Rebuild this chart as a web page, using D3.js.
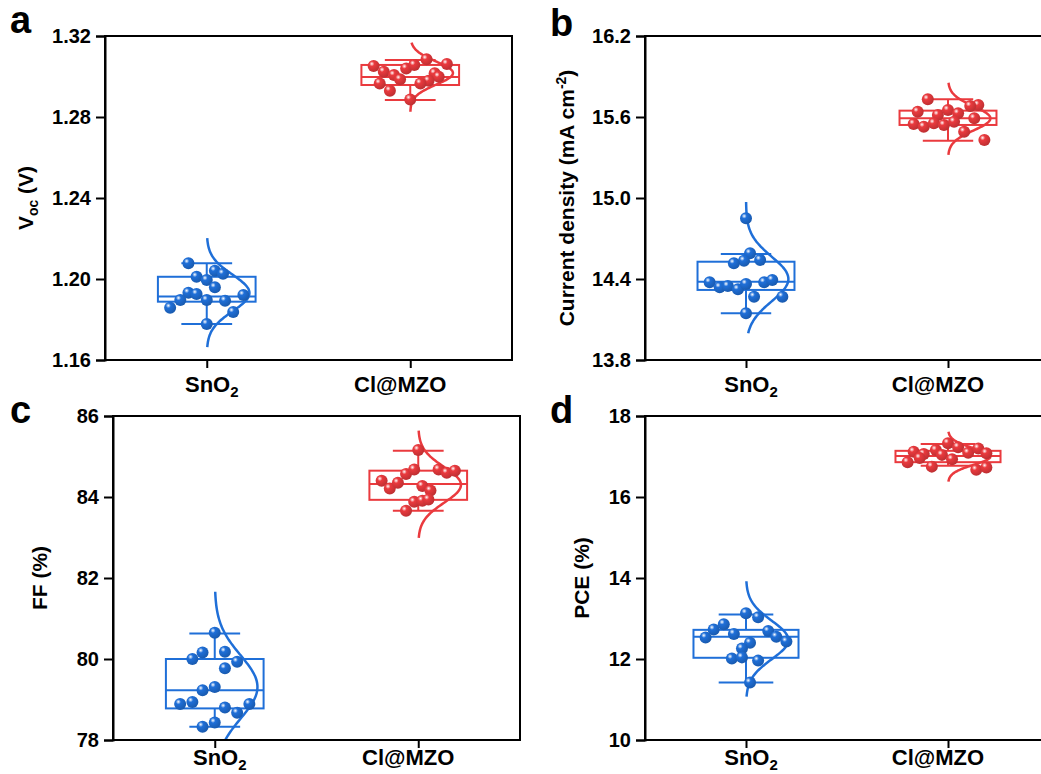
<!DOCTYPE html>
<html lang="en">
<head>
<meta charset="utf-8">
<title>Device statistics</title>
<script src="https://d3js.org/d3.v7.min.js"></script>
<style>
  body { margin: 0; background: #fff; }
  svg text { font-family: "Liberation Sans", Arial, sans-serif; font-weight: bold; fill: #000; }
</style>
</head>
<body>
<script>
// ---- data ----
var categories = ["SnO2", "Cl@MZO"];
var colors = ["#1f6fd8", "#ea3a3e"];

// Voc (V)
var vocSnO2 = [1.2078, 1.2041, 1.2026, 1.2011, 1.1995, 1.1959, 1.1932, 1.1926, 1.1921, 1.1896, 1.1896, 1.1893, 1.1858, 1.1837, 1.1778];
var vocSnO2Jit = [-0.09, 0.04, 0.08, -0.05, 0, 0.04, -0.09, -0.05, 0.18, -0.13, 0, 0.09, -0.18, 0.13, 0];
var vocMZO = [1.3052, 1.3024, 1.3007, 1.2986, 1.3040, 1.3057, 1.3085, 1.3062, 1.3016, 1.2999, 1.2979, 1.2966, 1.2966, 1.2930, 1.2887];
var vocMZOJit = [-0.18, -0.13, -0.08, -0.05, -0.02, 0.02, 0.08, 0.18, 0.12, 0.14, 0.09, 0.05, -0.15, -0.10, 0];
var vocBox = [[1.1778, 1.1888, 1.1913, 1.2011, 1.2078], [1.2884, 1.2958, 1.2998, 1.3057, 1.3081]];
var vocFit = [[1.1931, 0.009, 1.1664, 1.2202], [1.3017, 0.0057, 1.2826, 1.3167]]; // mean, sd, from, to
var vocTicks = [1.16, 1.20, 1.24, 1.28, 1.32];

// Current density (mA cm-2)
var jscSnO2 = [14.85, 14.590, 14.536, 14.516, 14.541, 14.376, 14.339, 14.348, 14.324, 14.363, 14.376, 14.393, 14.269, 14.269, 14.146];
var jscSnO2Jit = [0, 0.02, -0.01, -0.06, 0.07, -0.18, -0.13, -0.09, -0.04, 0, 0.09, 0.13, 0.04, 0.18, 0];
var jscMZO = [15.731, 15.639, 15.652, 15.615, 15.627, 15.689, 15.681, 15.590, 15.548, 15.528, 15.553, 15.541, 15.565, 15.491, 15.430];
var jscMZOJit = [-0.10, -0.15, 0, -0.05, 0.05, 0.15, 0.11, 0.13, -0.17, -0.12, -0.07, -0.02, 0.03, 0.08, 0.18];
var jscBox = [[14.146, 14.319, 14.380, 14.528, 14.585], [15.424, 15.541, 15.590, 15.647, 15.731]];
var jscFit = [[14.40, 0.165, 13.998, 14.97], [15.59, 0.089, 15.319, 15.854]];
var jscTicks = [13.8, 14.4, 15.0, 15.6, 16.2];

// FF (%)
var ffSnO2 = [80.65, 80.0, 80.16, 80.18, 79.93, 79.77, 79.23, 79.31, 78.89, 78.94, 78.80, 78.89, 78.67, 78.43, 78.33];
var ffSnO2Jit = [0, -0.11, -0.06, 0.05, 0.11, 0.05, -0.06, 0, -0.17, -0.11, 0.05, 0.17, 0.11, 0, -0.06];
var ffMZO = [85.16, 84.40, 84.21, 84.35, 84.57, 84.68, 84.68, 84.60, 84.65, 84.27, 84.16, 83.88, 83.91, 83.94, 83.66];
var ffMZOJit = [0, -0.18, -0.14, -0.10, -0.06, -0.02, 0.10, 0.14, 0.18, 0.02, 0.06, -0.02, 0.02, 0.05, -0.06];
var ffBox = [[78.33, 78.78, 79.23, 80.0, 80.63], [83.66, 83.93, 84.32, 84.65, 85.14]];
var ffFit = [[79.31, 0.78, 76.9, 81.66], [84.30, 0.44, 82.99, 85.64]];
var ffTicks = [78, 80, 82, 84, 86];

// PCE (%)
var pceSnO2 = [13.13, 13.03, 12.86, 12.73, 12.53, 12.62, 12.69, 12.55, 12.43, 12.40, 12.26, 12.01, 12.04, 11.96, 11.42];
var pceSnO2Jit = [0, 0.06, -0.11, -0.16, -0.20, -0.06, 0.11, 0.15, 0.20, 0.02, -0.02, -0.07, -0.02, 0.06, 0.02];
var pceMZO = [17.33, 17.12, 17.06, 17.16, 17.04, 17.23, 17.09, 17.20, 17.08, 16.86, 16.96, 16.93, 16.75, 16.67, 16.73];
var pceMZOJit = [0, -0.17, -0.12, -0.06, -0.03, 0.05, 0.10, 0.15, 0.19, -0.20, -0.14, 0.02, -0.08, 0.14, 0.19];
var pceBox = [[11.42, 12.03, 12.55, 12.72, 13.10], [16.77, 16.86, 17.01, 17.14, 17.31]];
var pceFit = [[12.47, 0.475, 11.07, 13.92], [17.0, 0.205, 16.38, 17.61]];
var pceTicks = [10, 12, 14, 16, 18];

// ---- layout ----
var W = 1041, H = 774;
var svg = d3.select("body").append("svg").attr("width", W).attr("height", H);

var defs = svg.append("defs");
colors.forEach(function(c, i) {
  var g = defs.append("radialGradient").attr("id", "ball" + i)
    .attr("cx", "35%").attr("cy", "32%").attr("r", "70%");
  g.append("stop").attr("offset", "0%").attr("stop-color", "#ffffff");
  g.append("stop").attr("offset", "30%").attr("stop-color", c);
  g.append("stop").attr("offset", "100%").attr("stop-color", d3.color(c).darker(0.6));
});

var panels = [
  { letter: "a", x0: 105, x1: 512, y0: 36, y1: 360, ticks: vocTicks, fmt: ".2f",
    pts: [vocSnO2, vocMZO], jit: [vocSnO2Jit, vocMZOJit], box: vocBox, fit: vocFit,
    boxW: 0.48, titleX: 33, title: "voc", letterX: 10, letterY: 33, labY: 32 },
  { letter: "b", x0: 645, x1: 1049, y0: 36, y1: 360, ticks: jscTicks, fmt: ".1f",
    pts: [jscSnO2, jscMZO], jit: [jscSnO2Jit, jscMZOJit], box: jscBox, fit: jscFit,
    boxW: 0.48, titleX: 574, title: "jsc", letterX: 550, letterY: 36, labY: 32 },
  { letter: "c", x0: 113, x1: 520, y0: 416, y1: 740, ticks: ffTicks, fmt: "d",
    pts: [ffSnO2, ffMZO], jit: [ffSnO2Jit, ffMZOJit], box: ffBox, fit: ffFit,
    boxW: 0.48, titleX: 47, title: "FF (%)", letterX: 10, letterY: 423, labY: 25 },
  { letter: "d", x0: 645, x1: 1049, y0: 416, y1: 740, ticks: pceTicks, fmt: "d",
    pts: [pceSnO2, pceMZO], jit: [pceSnO2Jit, pceMZOJit], box: pceBox, fit: pceFit,
    boxW: 0.52, titleX: 589, title: "PCE (%)", letterX: 550, letterY: 423, labY: 25 }
];

panels.forEach(function(p, pi) {
  var x = d3.scaleLinear().domain([0.5, 2.5]).range([p.x0, p.x1]);
  var y = d3.scaleLinear().domain([p.ticks[0], p.ticks[p.ticks.length - 1]]).range([p.y1, p.y0]);
  var g = svg.append("g");

  defs.append("clipPath").attr("id", "clip" + pi).append("rect")
    .attr("x", p.x0).attr("y", p.y0).attr("width", p.x1 - p.x0).attr("height", p.y1 - p.y0);
  var plot = g.append("g").attr("clip-path", "url(#clip" + pi + ")");

  // boxes + whiskers
  p.box.forEach(function(b, i) {
    var c = colors[i], cx = i + 1, hw = p.boxW / 2, cap = p.boxW * 0.26;
    var bg = plot.append("g").attr("stroke", c).attr("stroke-width", 2).attr("fill", "none");
    bg.append("rect").attr("x", x(cx - hw)).attr("y", y(b[3]))
      .attr("width", x(cx + hw) - x(cx - hw)).attr("height", y(b[1]) - y(b[3]));
    bg.append("line").attr("x1", x(cx - hw)).attr("x2", x(cx + hw)).attr("y1", y(b[2])).attr("y2", y(b[2]));
    bg.append("line").attr("x1", x(cx)).attr("x2", x(cx)).attr("y1", y(b[3])).attr("y2", y(b[4]));
    bg.append("line").attr("x1", x(cx)).attr("x2", x(cx)).attr("y1", y(b[1])).attr("y2", y(b[0]));
    bg.append("line").attr("x1", x(cx - cap)).attr("x2", x(cx + cap)).attr("y1", y(b[4])).attr("y2", y(b[4]));
    bg.append("line").attr("x1", x(cx - cap)).attr("x2", x(cx + cap)).attr("y1", y(b[0])).attr("y2", y(b[0]));
  });

  // normal distribution curves
  p.fit.forEach(function(f, i) {
    var cx = i + 1, peak = 0.21;
    var vals = d3.range(0, 81).map(function(k) { return f[2] + (f[3] - f[2]) * k / 80; });
    var line = d3.line()
      .x(function(v) { return x(cx + peak * Math.exp(-0.5 * Math.pow((v - f[0]) / f[1], 2))); })
      .y(function(v) { return y(v); })
      .curve(d3.curveBasis);
    plot.append("path").datum(vals).attr("d", line)
      .attr("fill", "none").attr("stroke", colors[i]).attr("stroke-width", 2.5);
  });

  // points
  p.pts.forEach(function(arr, i) {
    plot.selectAll(null).data(arr).enter().append("circle")
      .attr("cx", function(d, k) { return x(i + 1 + p.jit[i][k]); })
      .attr("cy", function(d) { return y(d); })
      .attr("r", 6)
      .attr("fill", "url(#ball" + i + ")");
  });

  // frame
  g.append("rect").attr("x", p.x0).attr("y", p.y0)
    .attr("width", p.x1 - p.x0).attr("height", p.y1 - p.y0)
    .attr("fill", "none").attr("stroke", "#000").attr("stroke-width", 2);

  // y axis
  var ya = g.append("g").attr("transform", "translate(" + p.x0 + ",0)")
    .call(d3.axisLeft(y).tickValues(p.ticks).tickFormat(d3.format(p.fmt)).tickSize(9).tickPadding(5));
  ya.select(".domain").attr("stroke-width", 2);
  ya.selectAll(".tick line").attr("stroke-width", 2);
  ya.selectAll("text").style("font-size", "20px").style("font-family", "'Liberation Sans', Arial, sans-serif").style("font-weight", "bold");

  // x axis
  var xa = g.append("g").attr("transform", "translate(0," + p.y1 + ")")
    .call(d3.axisBottom(x).tickValues([1, 2]).tickFormat("").tickSize(8));
  xa.select(".domain").remove();
  xa.selectAll(".tick line").attr("stroke-width", 2);

  // category labels
  var dxs = [5, -10];
  categories.forEach(function(cat, i) {
    var t = g.append("text").attr("x", x(i + 1) + dxs[i]).attr("y", p.y1 + p.labY)
      .attr("text-anchor", "middle").style("font-size", "22px");
    if (cat === "SnO2") {
      t.append("tspan").text("SnO");
      t.append("tspan").attr("dy", 5).style("font-size", "15px").text("2");
    } else {
      t.text(cat);
    }
  });

  // y title
  var yt = g.append("text")
    .attr("transform", "translate(" + p.titleX + "," + ((p.y0 + p.y1) / 2) + ") rotate(-90)")
    .attr("text-anchor", "middle").style("font-size", "21px");
  if (p.title === "voc") {
    yt.append("tspan").text("V");
    yt.append("tspan").attr("dy", 5).style("font-size", "14px").text("oc");
    yt.append("tspan").attr("dy", -5).text(" (V)");
  } else if (p.title === "jsc") {
    yt.append("tspan").text("Current density (mA cm");
    yt.append("tspan").attr("dy", -8).style("font-size", "14px").text("-2");
    yt.append("tspan").attr("dy", 8).text(")");
  } else {
    yt.text(p.title);
  }

  // panel letter
  g.append("text").attr("x", p.letterX).attr("y", p.letterY)
    .style("font-size", "38px").text(p.letter);
});
</script>
</body>
</html>
